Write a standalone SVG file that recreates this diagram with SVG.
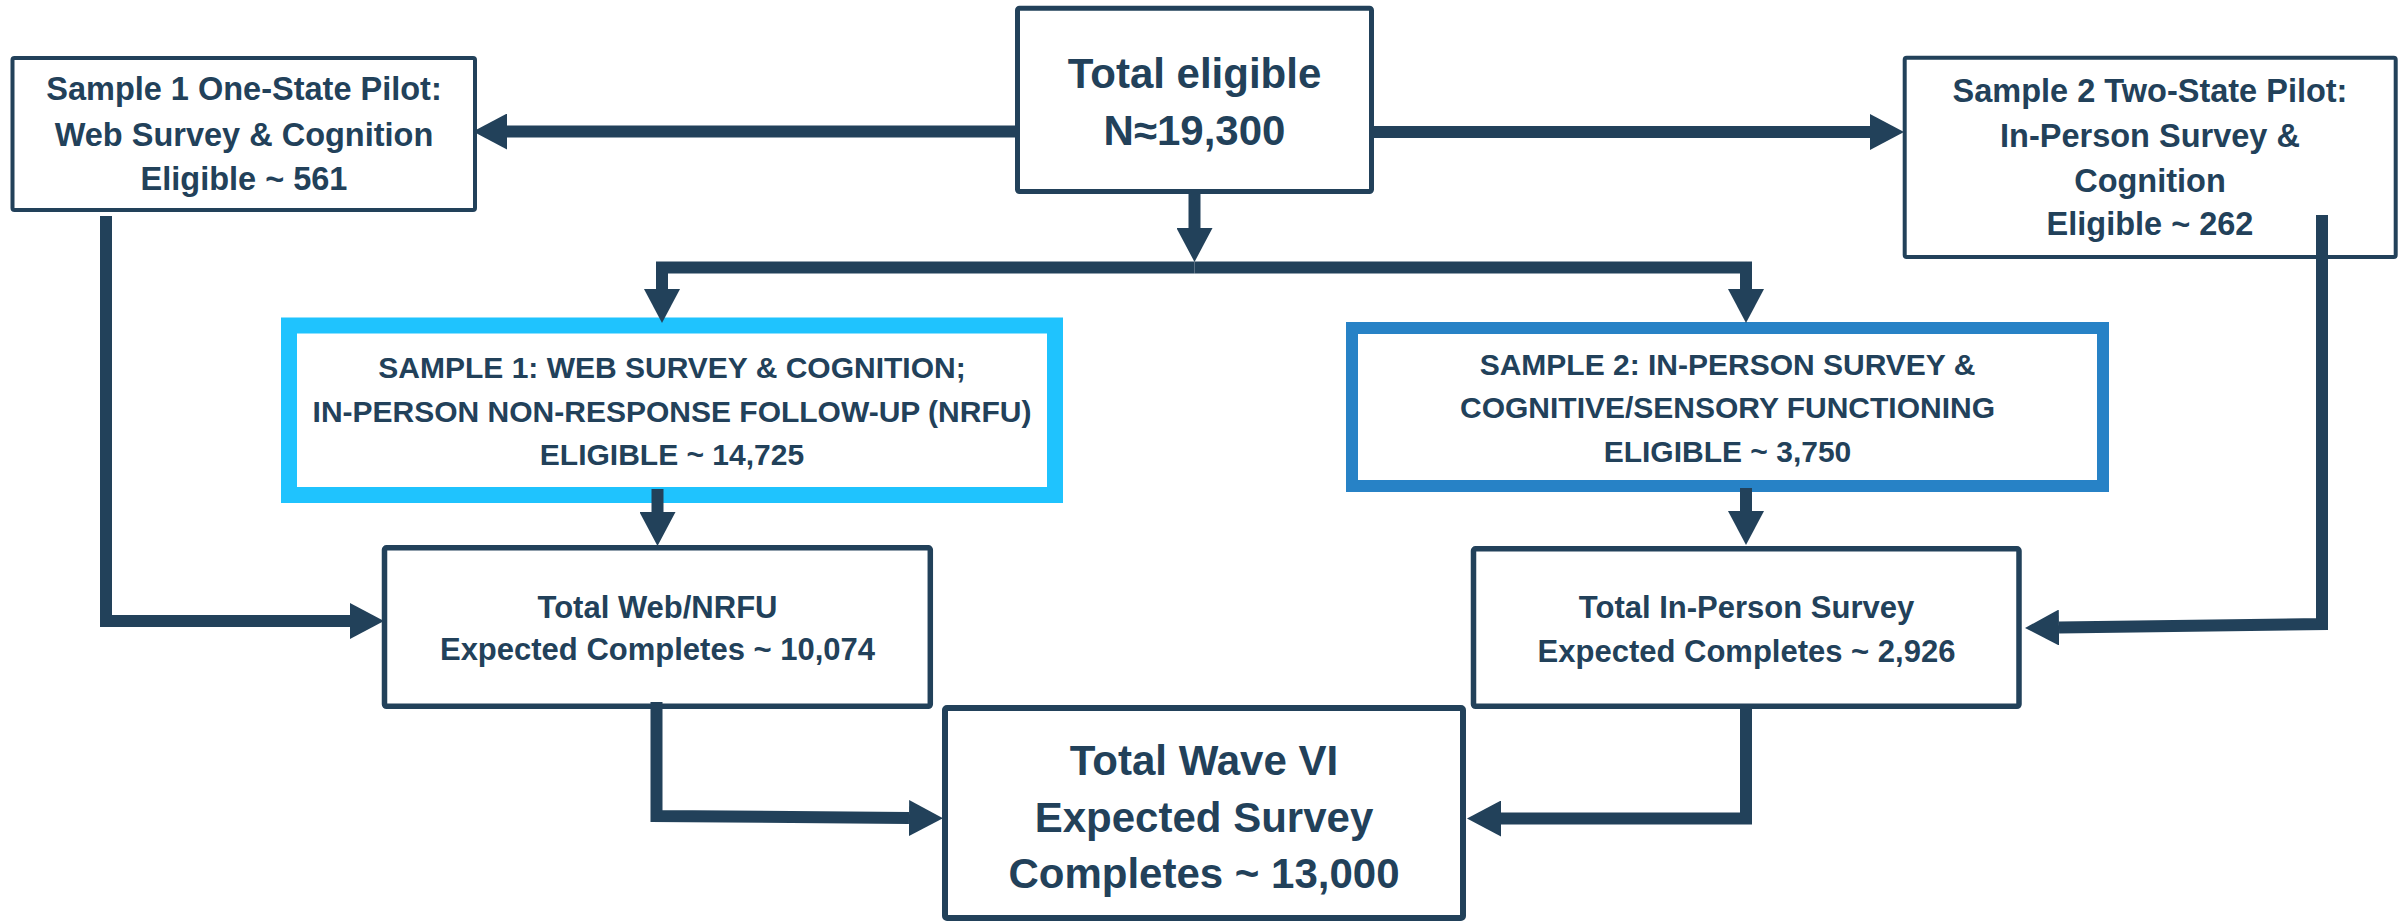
<svg xmlns="http://www.w3.org/2000/svg" width="2407" height="922" viewBox="0 0 2407 922">
  <style>
    .box { fill: #ffffff; stroke: #22415a; }
    .lbl { font-family: "Liberation Sans", Arial, sans-serif; font-weight: bold; fill: #22415a; text-anchor: middle; }
    .conn { fill: none; stroke: #22415a; stroke-width: 12; stroke-linejoin: miter; }
  </style>
  <defs>
    <!-- arrowhead anchored at its base so the shaft never pokes past the tip -->
    <marker id="head" viewBox="0 0 34 36" refX="0" refY="18" markerWidth="34" markerHeight="36" markerUnits="userSpaceOnUse" orient="auto">
      <path d="M0,0 L34,18 L0,36 Z" fill="#22415a"/>
    </marker>
  </defs>
  <rect width="2407" height="922" fill="#ffffff"/>

  <g id="pilot1">
    <rect class="box" x="12.5" y="58" width="462.5" height="152" rx="2" stroke-width="4"/>
    <text class="lbl" font-size="32.5" x="244" y="100">Sample 1 One-State Pilot:</text>
    <text class="lbl" font-size="32.5" x="244" y="146">Web Survey &amp; Cognition</text>
    <text class="lbl" font-size="32.5" x="244" y="190">Eligible ~ 561</text>
  </g>

  <g id="total-eligible">
    <rect class="box" x="1017.5" y="8.2" width="354" height="183.3" rx="2" stroke-width="5"/>
    <text class="lbl" font-size="42" x="1194.5" y="88">Total eligible</text>
    <text class="lbl" font-size="42" x="1194.5" y="145">N≈19,300</text>
  </g>

  <g id="pilot2">
    <rect class="box" x="1904.7" y="57.7" width="491" height="199.3" rx="2" stroke-width="4"/>
    <text class="lbl" font-size="32.5" x="2150" y="101.5">Sample 2 Two-State Pilot:</text>
    <text class="lbl" font-size="32.5" x="2150" y="146.5">In-Person Survey &amp;</text>
    <text class="lbl" font-size="32.5" x="2150" y="191.5">Cognition</text>
    <text class="lbl" font-size="32.5" x="2150" y="235">Eligible ~ 262</text>
  </g>

  <g id="sample1">
    <rect x="289" y="325.5" width="766" height="169.5" fill="#ffffff" stroke="#1fc3fe" stroke-width="16"/>
    <text class="lbl" font-size="30" x="672" y="378">SAMPLE 1: WEB SURVEY &amp; COGNITION;</text>
    <text class="lbl" font-size="30" x="672" y="421.5">IN-PERSON NON-RESPONSE FOLLOW-UP (NRFU)</text>
    <text class="lbl" font-size="30" x="672" y="465">ELIGIBLE ~ 14,725</text>
  </g>

  <g id="sample2">
    <rect x="1352" y="328" width="751" height="158" fill="#ffffff" stroke="#2782c6" stroke-width="12"/>
    <text class="lbl" font-size="30" x="1727.5" y="375">SAMPLE 2: IN-PERSON SURVEY &amp;</text>
    <text class="lbl" font-size="30" x="1727.5" y="418">COGNITIVE/SENSORY FUNCTIONING</text>
    <text class="lbl" font-size="30" x="1727.5" y="461.5">ELIGIBLE ~ 3,750</text>
  </g>

  <g id="web-nrfu">
    <rect class="box" x="384.5" y="547.8" width="545.8" height="158.5" rx="2" stroke-width="5.5"/>
    <text class="lbl" font-size="31" x="657.5" y="617.5">Total Web/NRFU</text>
    <text class="lbl" font-size="31" x="657.5" y="660">Expected Completes ~ 10,074</text>
  </g>

  <g id="in-person">
    <rect class="box" x="1473.5" y="548.8" width="545.5" height="157.5" rx="2" stroke-width="5.5"/>
    <text class="lbl" font-size="31" x="1746.5" y="618">Total In-Person Survey</text>
    <text class="lbl" font-size="31" x="1746.5" y="662">Expected Completes ~ 2,926</text>
  </g>

  <g id="wave6">
    <rect class="box" x="945" y="708" width="518" height="210" rx="2" stroke-width="6"/>
    <text class="lbl" font-size="42" x="1204" y="775">Total Wave VI</text>
    <text class="lbl" font-size="42" x="1204" y="831.5">Expected Survey</text>
    <text class="lbl" font-size="42" x="1204" y="888">Completes ~ 13,000</text>
  </g>

  <g id="connectors">
    <path class="conn" d="M1015,131.5 H507" marker-end="url(#head)"/>
    <path class="conn" d="M1374,132 H1870" marker-end="url(#head)"/>
    <path class="conn" d="M1194.5,194 V228" marker-end="url(#head)"/>
    <path class="conn" d="M1194.5,267.5 H662 V289" marker-end="url(#head)"/>
    <path class="conn" d="M1194.5,267.5 H1746 V289" marker-end="url(#head)"/>
    <path class="conn" d="M657.5,489 V512" marker-end="url(#head)"/>
    <path class="conn" d="M1746,488 V511" marker-end="url(#head)"/>
    <path class="conn" d="M106,216 V621 H350" marker-end="url(#head)"/>
    <path class="conn" d="M2322,215 V624 L2059,627.5" marker-end="url(#head)"/>
    <path class="conn" d="M656.5,702 V816 L909,818" marker-end="url(#head)"/>
    <path class="conn" d="M1746,709 V818.5 H1501" marker-end="url(#head)"/>
  </g>
</svg>
